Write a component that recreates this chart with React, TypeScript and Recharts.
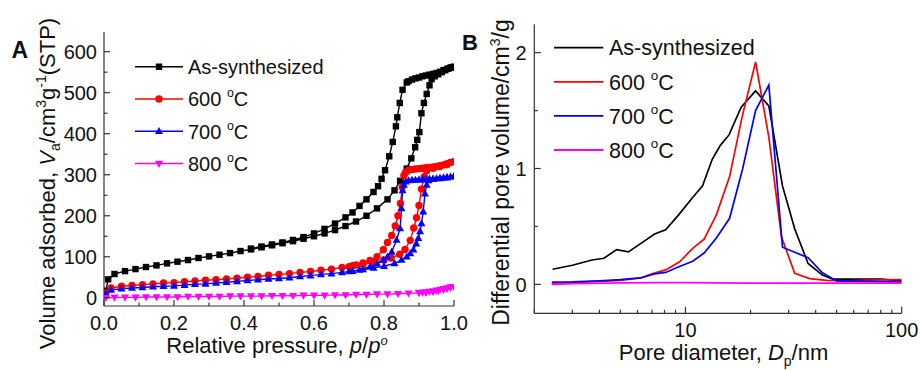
import React from 'react';
import { LineChart, Line, XAxis, YAxis, Legend, Label } from 'recharts';

const FONT = "'Liberation Sans', Arial, Helvetica, sans-serif";
const INK = '#111';
const FRAME = '#333';

type Pt = [number, number];

// ---------- Panel A: N2 isotherms [p/p0, V (cm3/g STP)] ----------
const asSynAds: Pt[] = [[0.005,17],[0.012,45],[0.03,58],[0.06,65],[0.09,70],[0.12,75],[0.15,79],[0.18,84],[0.21,88],[0.24,92],[0.27,97],[0.30,101],[0.33,105],[0.36,109],[0.39,114],[0.42,118],[0.45,123],[0.48,128],[0.51,133],[0.54,138],[0.57,144],[0.60,150],[0.63,157],[0.66,165],[0.69,175],[0.72,186],[0.75,200],[0.78,218],[0.81,240],[0.83,262],[0.846,285],[0.865,315],[0.878,340],[0.889,367],[0.895,385],[0.901,404],[0.907,450],[0.914,475],[0.922,497],[0.93,518],[0.936,533],[0.945,540],[0.955,545],[0.965,550],[0.975,555],[0.985,559],[0.993,562],[1.0,563]];
const asSynDes: Pt[] = [[1.0,563],[0.99,561],[0.98,558],[0.97,555],[0.96,551],[0.95,548],[0.94,546],[0.93,544],[0.92,542],[0.91,540],[0.90,537],[0.89,535],[0.88,532],[0.87,528],[0.865,525],[0.853,507],[0.845,475],[0.838,440],[0.834,418],[0.825,380],[0.815,345],[0.803,311],[0.793,290],[0.783,272],[0.77,258],[0.75,240],[0.73,224],[0.71,208],[0.69,196],[0.66,181],[0.63,168],[0.60,157],[0.57,148],[0.54,141],[0.51,135],[0.48,130],[0.45,125],[0.42,120]];
const c600Ads: Pt[] = [[0.005,12],[0.02,24],[0.05,28],[0.08,30],[0.11,32],[0.14,34],[0.17,36],[0.20,37],[0.23,39],[0.26,41],[0.29,43],[0.32,44],[0.35,46],[0.38,48],[0.41,50],[0.44,52],[0.47,55],[0.50,57],[0.53,59],[0.56,62],[0.59,64],[0.62,67],[0.65,70],[0.68,74],[0.71,78],[0.74,82],[0.77,87],[0.80,92],[0.82,97],[0.845,106],[0.86,118],[0.875,140],[0.885,170],[0.893,195],[0.90,225],[0.907,265],[0.915,295],[0.922,310],[0.94,316],[0.96,320],[0.98,325],[1.0,332]];
const c600Des: Pt[] = [[1.0,332],[0.99,330],[0.98,327],[0.97,324],[0.96,322],[0.95,320],[0.94,319],[0.93,318],[0.92,317],[0.91,316],[0.90,315],[0.89,314],[0.88,313],[0.87,311],[0.862,306],[0.857,298],[0.852,270],[0.847,230],[0.84,200],[0.832,175],[0.822,152],[0.81,135],[0.798,117],[0.78,100],[0.76,91],[0.74,85],[0.72,80],[0.70,76]];
const c700Ads: Pt[] = [[0.005,10],[0.02,19],[0.05,22],[0.08,24],[0.11,25],[0.14,27],[0.17,28],[0.20,29],[0.23,31],[0.26,33],[0.29,34],[0.32,36],[0.35,38],[0.38,40],[0.41,42],[0.44,44],[0.47,46],[0.50,47],[0.53,49],[0.56,52],[0.59,54],[0.62,57],[0.65,59],[0.68,62],[0.71,65],[0.74,69],[0.77,73],[0.80,77],[0.83,84],[0.85,92],[0.865,100],[0.875,108],[0.884,117],[0.892,132],[0.898,145],[0.903,162],[0.907,181],[0.912,210],[0.917,254],[0.922,275],[0.927,286],[0.94,289],[0.96,291],[0.98,293],[1.0,296]];
const c700Des: Pt[] = [[1.0,296],[0.99,295],[0.98,294],[0.97,293],[0.96,292],[0.95,291],[0.94,290],[0.93,290],[0.92,289],[0.91,288],[0.90,288],[0.89,287],[0.88,287],[0.87,286],[0.862,283],[0.857,275],[0.853,262],[0.85,218],[0.846,169],[0.836,141],[0.822,112],[0.81,100],[0.798,92],[0.78,83],[0.76,76],[0.73,68],[0.70,64]];
const c800Ads: Pt[] = [[0.005,0],[0.03,1],[0.06,1],[0.09,1],[0.12,2],[0.15,2],[0.18,2],[0.21,2],[0.24,3],[0.27,3],[0.30,3],[0.33,3],[0.36,4],[0.39,4],[0.42,4],[0.45,4],[0.48,5],[0.51,5],[0.54,5],[0.57,6],[0.60,6],[0.63,6],[0.66,7],[0.69,7],[0.72,8],[0.75,8],[0.78,9],[0.81,9],[0.84,10],[0.87,11],[0.90,12],[0.92,13],[0.94,15],[0.955,17],[0.97,20],[0.98,22],[0.99,25],[1.0,27]];
const c800Des: Pt[] = [[1.0,27],[0.99,26],[0.98,24],[0.97,22],[0.96,20],[0.95,18],[0.94,16],[0.93,15],[0.92,14],[0.91,13],[0.90,13]];

const pTicks = [0, 0.1, 0.2, 0.3, 0.4, 0.5, 0.6, 0.7, 0.8, 0.9, 1.0];
const pLabels = [0, 0.2, 0.4, 0.6, 0.8, 1.0];
const vTicks = [0, 50, 100, 150, 200, 250, 300, 350, 400, 450, 500, 550, 600];
const vLabels = [0, 100, 200, 300, 400, 500, 600];

// ---------- Panel B: pore size distribution [Dp (nm), dV] ----------
const asSynPsd: Pt[] = [[2.43,0.13],[3.0,0.165],[3.7,0.21],[4.2,0.225],[4.8,0.30],[5.45,0.28],[6.3,0.36],[7.2,0.435],[8.1,0.47],[9.3,0.6],[10.8,0.75],[12.0,0.85],[13.3,1.08],[14.5,1.2],[15.9,1.29],[18.1,1.53],[21.1,1.67],[24.3,1.54],[28.1,0.85],[32,0.48],[36.9,0.18],[43,0.08],[48,0.045],[68,0.045],[80,0.045],[95,0.035],[100,0.03]];
const c600Psd: Pt[] = [[2.41,0.01],[3,0.015],[4,0.025],[5,0.035],[6.2,0.055],[7,0.09],[8.1,0.125],[9.4,0.195],[10.8,0.31],[12.2,0.39],[13.9,0.6],[16,0.93],[18.3,1.45],[21.1,1.92],[24.3,1.27],[27.8,0.41],[32,0.095],[37.5,0.05],[45,0.035],[56,0.03],[69,0.037],[98,0.04],[100,0.04]];
const c700Psd: Pt[] = [[2.41,0.02],[3,0.022],[4,0.03],[5,0.04],[6.2,0.055],[7.2,0.09],[8.1,0.103],[9.2,0.147],[10.8,0.2],[12.2,0.27],[13.9,0.40],[16,0.57],[18.4,1.0],[21.1,1.5],[24.3,1.72],[28.1,0.32],[36.9,0.23],[43,0.1],[50,0.03],[70,0.025],[100,0.02]];
const c800Psd: Pt[] = [[2.41,0.0],[3,0.005],[5,0.012],[8,0.015],[10,0.015],[20,0.01],[30,0.01],[50,0.01],[100,0.01]];

const dTicks = [2, 3, 4, 5, 6, 7, 8, 9, 10, 20, 30, 40, 50, 60, 70, 80, 90, 100];
const dLabels = [10, 100];
const dvTicks = [0, 0.5, 1, 1.5, 2];
const dvLabels = [0, 1, 2];

const names = ['As-synthesized', '600 ', '700 ', '800 '];
const colors = ['#000000', '#ff0000', '#0000ff', '#ff00ff'];
const shapes = ['square', 'circle', 'up', 'down'];

const rowsOf = (pts: Pt[]) => pts.map(([x, y]) => ({ x, y }));
const isIn = (list: number[], v: number) => list.some((m) => Math.abs(m - v) < 1e-9);

function Marker({ shape, cx, cy, color }: any) {
  if (cx == null || cy == null) return null;
  if (shape === 'square') return <rect x={cx - 3.2} y={cy - 3.2} width={6.4} height={6.4} fill={color} />;
  if (shape === 'circle') return <circle cx={cx} cy={cy} r={3.7} fill={color} />;
  if (shape === 'up') return <path d={`M${cx},${cy - 4.3}L${cx + 4},${cy + 2.8}L${cx - 4},${cy + 2.8}Z`} fill={color} />;
  return <path d={`M${cx},${cy + 4.3}L${cx + 4},${cy - 2.8}L${cx - 4},${cy - 2.8}Z`} fill={color} />;
}

type Side = 'bottom' | 'top' | 'left' | 'right';
function makeTick(side: Side, majors: number[], labels: number[], fmt: (v: number) => string, majorLen: number, minorLen: number, fontSize: number, gap: number) {
  return function Tick(props: any) {
    const { x, y, payload } = props;
    const v = payload.value;
    const len = isIn(majors, v) ? majorLen : minorLen;
    const show = isIn(labels, v);
    const st = { stroke: FRAME, strokeWidth: 1.2 };
    if (side === 'bottom')
      return (
        <g>
          <line x1={x} y1={y} x2={x} y2={y - len} {...st} />
          {show && <text x={x} y={y + gap} textAnchor="middle" fontSize={fontSize} fontFamily={FONT} fill={INK}>{fmt(v)}</text>}
        </g>
      );
    if (side === 'top') return <line x1={x} y1={y} x2={x} y2={y + len} {...st} />;
    if (side === 'left')
      return (
        <g>
          <line x1={x} y1={y} x2={x + len} y2={y} {...st} />
          {show && <text x={x - gap} y={y} dy="0.36em" textAnchor="end" fontSize={fontSize} fontFamily={FONT} fill={INK}>{fmt(v)}</text>}
        </g>
      );
    return <line x1={x} y1={y} x2={x - len} y2={y} {...st} />;
  };
}

const fmtP = (v: number) => v.toFixed(1);
const fmtInt = (v: number) => String(Math.round(v));

function LegendLabel({ i, x, y, size }: any) {
  if (i === 0)
    return <text x={x} y={y} dy="0.36em" fontSize={size} fontFamily={FONT} fill={INK}>{names[0]}</text>;
  return (
    <text x={x} y={y} dy="0.36em" fontSize={size} fontFamily={FONT} fill={INK}>
      {names[i]}
      <tspan dy={-size * 0.45} fontSize={size * 0.62}>o</tspan>
      <tspan dy={size * 0.45}>C</tspan>
    </text>
  );
}

function LegendA() {
  return (
    <svg width={240} height={140} style={{ overflow: 'visible', display: 'block' }}>
      {names.map((n, i) => {
        const cy = 18.7 + i * 32.3;
        return (
          <g key={n}>
            <line x1={5} x2={53} y1={cy} y2={cy} stroke={colors[i]} strokeWidth={1.5} />
            <Marker shape={shapes[i]} cx={29} cy={cy} color={colors[i]} />
            <LegendLabel i={i} x={58} y={cy} size={20} />
          </g>
        );
      })}
    </svg>
  );
}

function LegendB() {
  return (
    <svg width={220} height={140} style={{ overflow: 'visible', display: 'block' }}>
      {names.map((n, i) => {
        const cy = 17.7 + i * 34.1;
        return (
          <g key={n}>
            <line x1={4} x2={53.3} y1={cy} y2={cy} stroke={colors[i]} strokeWidth={1.8} />
            <LegendLabel i={i} x={59} y={cy} size={21.5} />
          </g>
        );
      })}
    </svg>
  );
}

const seriesA = [
  [...asSynAds, ...asSynDes],
  [...c600Ads, ...c600Des],
  [...c700Ads, ...c700Des],
  [...c800Ads, ...c800Des],
];
const seriesB = [asSynPsd, c600Psd, c700Psd, c800Psd];

const axisLine = { stroke: FRAME, strokeWidth: 1.2 };

function ChartA() {
  return (
    <LineChart width={480} height={370} margin={{ top: 32, right: 26, bottom: 34, left: 44 }}>
      <XAxis xAxisId="b" dataKey="x" type="number" domain={[0, 1]} ticks={pTicks} interval={0} allowDataOverflow
        height={30} tickSize={0} tickMargin={0} tickLine={false} axisLine={axisLine}
        tick={makeTick('bottom', pLabels, pLabels, fmtP, 6, 3.5, 20, 24)}>
        <Label content={() => (
          <text x={277} y={353} textAnchor="middle" fontSize={22} fontFamily={FONT} fill={INK}>
            {'Relative pressure, '}
            <tspan fontStyle="italic">p</tspan>/<tspan fontStyle="italic">p</tspan>
            <tspan dy={-8} fontSize={13} fontStyle="italic">o</tspan>
          </text>
        )} />
      </XAxis>
      <XAxis xAxisId="t" dataKey="x" type="number" orientation="top" domain={[0, 1]} ticks={pTicks} interval={0} allowDataOverflow
        height={0} tickSize={0} tickMargin={0} tickLine={false} axisLine={axisLine}
        tick={makeTick('top', pLabels, [], fmtP, 6, 3.5, 20, 0)} />
      <YAxis yAxisId="l" type="number" domain={[-20, 648]} ticks={vTicks} interval={0} allowDataOverflow
        width={60} tickSize={0} tickMargin={0} tickLine={false} axisLine={axisLine}
        tick={makeTick('left', vLabels, vLabels, fmtInt, 6, 3.5, 20, 7)}>
        <Label content={() => (
          <g>
            <text transform="translate(55,183.5) rotate(-90)" textAnchor="middle" fontSize={22} fontFamily={FONT} fill={INK}>
              {'Volume adsorbed, '}
              <tspan fontStyle="italic">V</tspan>
              <tspan dy={5} fontSize={14}>a</tspan>
              <tspan dy={-5}>/cm</tspan>
              <tspan dy={-9} fontSize={14}>3</tspan>
              <tspan dy={9}>g</tspan>
              <tspan dy={-9} fontSize={14}>-1</tspan>
              <tspan dy={9}>(STP)</tspan>
            </text>
            <text x={11.5} y={57.5} fontSize={23} fontWeight="bold" fontFamily={FONT} fill={INK}>A</text>
          </g>
        )} />
      </YAxis>
      <YAxis yAxisId="r" type="number" orientation="right" domain={[-20, 648]} ticks={vTicks} interval={0} allowDataOverflow
        width={0} tickSize={0} tickMargin={0} tickLine={false} axisLine={axisLine}
        tick={makeTick('right', vLabels, [], fmtInt, 6, 3.5, 20, 0)} />
      {seriesA.map((pts, i) => (
        <Line key={names[i]} name={names[i]} xAxisId="b" yAxisId="l" data={rowsOf(pts)} dataKey="y"
          type="linear" stroke={colors[i]} strokeWidth={1.4} isAnimationActive={false} activeDot={false}
          dot={(p: any) => <Marker key={`m${i}-${p.index}`} shape={shapes[i]} cx={p.cx} cy={p.cy} color={colors[i]} />} />
      ))}
      <Legend layout="vertical" align="center" verticalAlign="middle" content={() => <LegendA />}
        wrapperStyle={{ left: 130, top: 48, width: 240, height: 140 }} />
    </LineChart>
  );
}

function ChartB() {
  return (
    <LineChart width={461} height={370} margin={{ top: 24.3, right: 19.3, bottom: 26.7, left: 14.3 }}>
      <XAxis xAxisId="b" dataKey="x" type="number" scale="log" domain={[2, 100]} ticks={dTicks} interval={0} allowDataOverflow
        height={30} tickSize={0} tickMargin={0} tickLine={false} axisLine={axisLine}
        tick={makeTick('bottom', dLabels, dLabels, fmtInt, 6.5, 3.5, 20, 24)}>
        <Label content={() => (
          <text x={263.5} y={359.5} textAnchor="middle" fontSize={22} fontFamily={FONT} fill={INK}>
            {'Pore diameter, '}
            <tspan fontStyle="italic">D</tspan>
            <tspan dy={6} fontSize={14}>p</tspan>
            <tspan dy={-6}>/nm</tspan>
          </text>
        )} />
      </XAxis>
      <XAxis xAxisId="t" dataKey="x" type="number" scale="log" orientation="top" domain={[2, 100]} ticks={dTicks} interval={0} allowDataOverflow
        height={0} tickSize={0} tickMargin={0} tickLine={false} axisLine={axisLine}
        tick={makeTick('top', dLabels, [], fmtInt, 6.5, 3.5, 20, 0)} />
      <YAxis yAxisId="l" type="number" domain={[-0.25, 2.245]} ticks={dvTicks} interval={0} allowDataOverflow
        width={60} tickSize={0} tickMargin={0} tickLine={false} axisLine={axisLine}
        tick={makeTick('left', dvLabels, dvLabels, fmtInt, 6.5, 3.5, 20, 7.6)}>
        <Label content={() => (
          <g>
            <text transform="translate(49,172.5) rotate(-90)" textAnchor="middle" fontSize={23} fontFamily={FONT} fill={INK}>
              {'Differential pore volume/cm'}
              <tspan dy={-9} fontSize={14}>3</tspan>
              <tspan dy={9}>/g</tspan>
            </text>
            <text x={2} y={50} fontSize={22} fontWeight="bold" fontFamily={FONT} fill={INK}>B</text>
          </g>
        )} />
      </YAxis>
      <YAxis yAxisId="r" type="number" orientation="right" domain={[-0.25, 2.245]} ticks={dvTicks} interval={0} allowDataOverflow
        width={0} tickSize={0} tickMargin={0} tickLine={false} axisLine={axisLine}
        tick={makeTick('right', dvLabels, [], fmtInt, 6.5, 3.5, 20, 0)} />
      {seriesB.map((pts, i) => (
        <Line key={names[i]} name={names[i]} xAxisId="b" yAxisId="l" data={rowsOf(pts)} dataKey="y"
          type="linear" stroke={colors[i]} strokeWidth={1.7} dot={false} activeDot={false} isAnimationActive={false} />
      ))}
      <Legend layout="vertical" align="center" verticalAlign="middle" content={() => <LegendB />}
        wrapperStyle={{ left: 90, top: 30, width: 220, height: 140 }} />
    </LineChart>
  );
}

export default function App() {
  return (
    <div style={{ position: 'absolute', left: 0, top: 0, width: 921, height: 370, background: '#fff', overflow: 'hidden', fontFamily: FONT }}>
      <div style={{ position: 'absolute', left: 460, top: 0 }}>
        <ChartB />
      </div>
      <div style={{ position: 'absolute', left: 0, top: 0 }}>
        <ChartA />
      </div>
    </div>
  );
}
